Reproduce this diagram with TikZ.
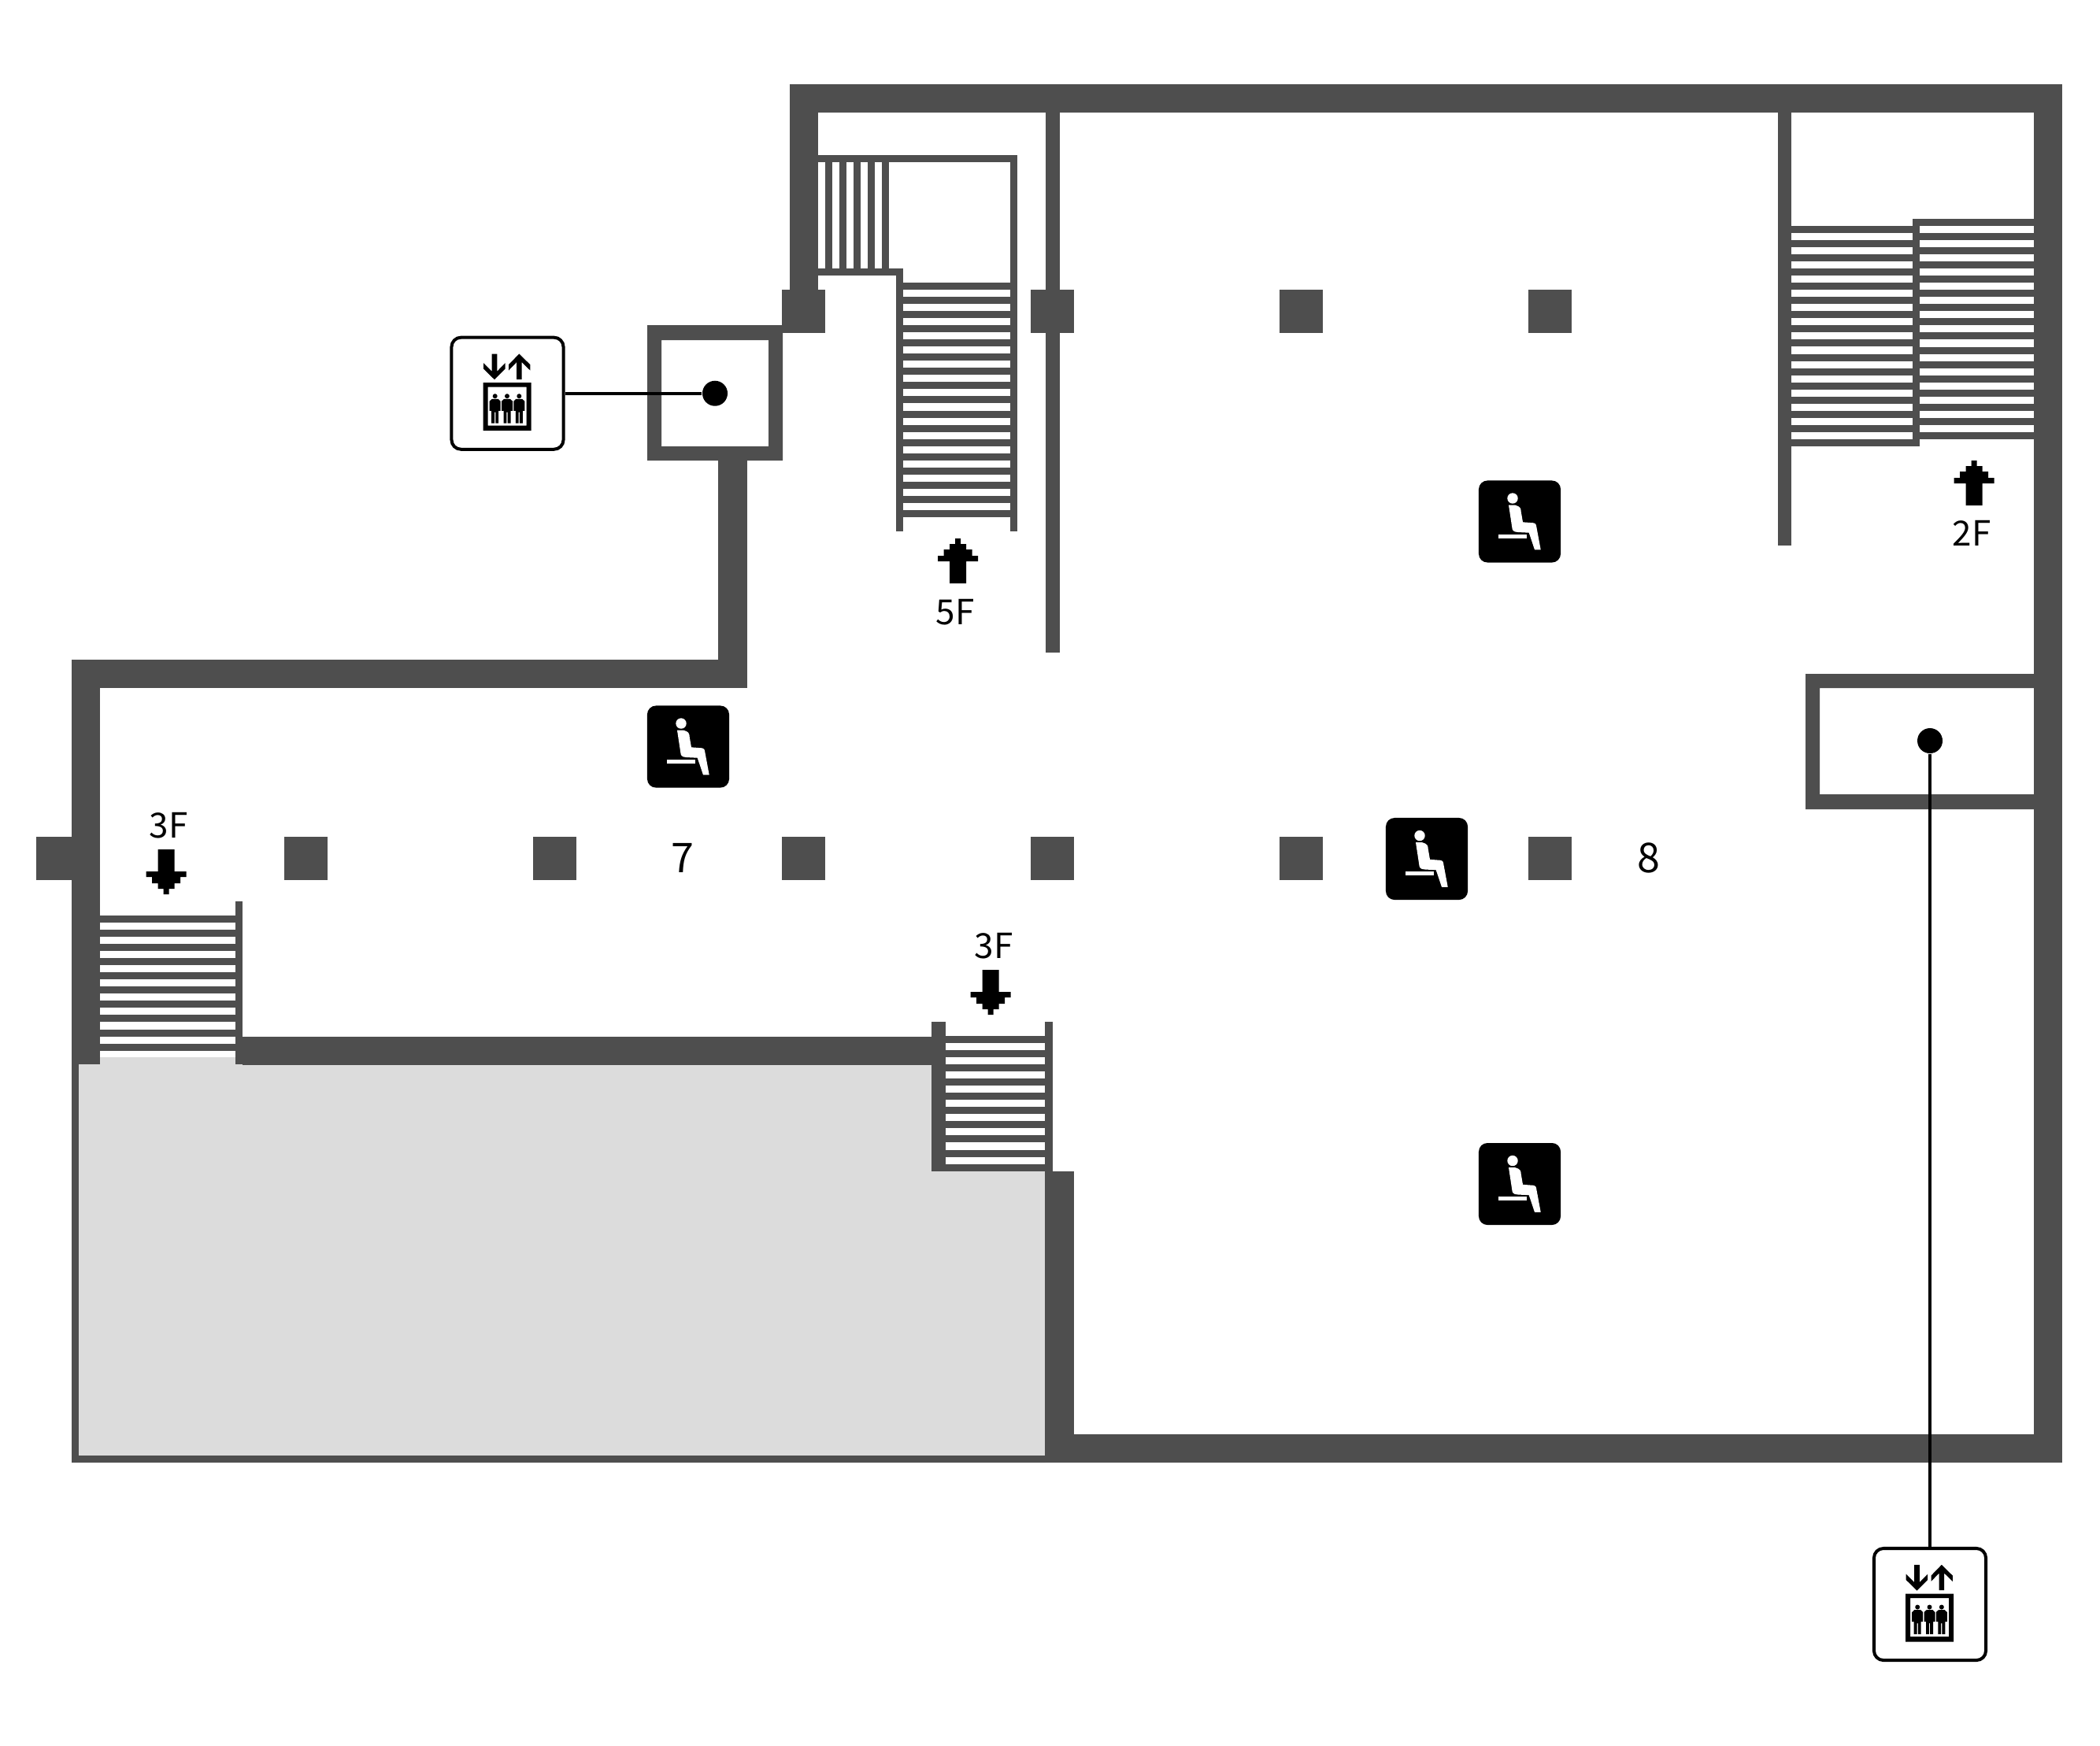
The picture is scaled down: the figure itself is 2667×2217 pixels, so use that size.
\documentclass[tikz,border=0pt]{standalone}
\usepackage{fontspec}
\newfontfamily\labelfont{Noto Sans CJK JP}
\definecolor{wallcol}{HTML}{4E4E4E}
\definecolor{voidcol}{HTML}{DCDCDC}
\tikzset{
  x=0.01cm,y=-0.01cm,
  wall/.style={fill=wallcol},
  floorlabel/.style={font=\labelfont\fontsize{12.5}{12.5}\selectfont,anchor=base,inner sep=0pt},
  roomlabel/.style={font=\labelfont\fontsize{14.8}{14.8}\selectfont,anchor=base,inner sep=0pt},
  lifticon/.style={draw=black,fill=white,line width=1.14pt,rounded corners=0.12cm,minimum size=1.42cm,inner sep=0pt,shape=rectangle},
  liftdot/.style={circle,fill=black,minimum size=0.32cm,inner sep=0pt},
  leader/.style={draw=black,line width=1.14pt},
  seaticon/.style={fill=black,rounded corners=0.11cm,minimum size=1.04cm,inner sep=0pt,shape=rectangle},
  seatfig/.pic={
    \fill[white] (-9,-29.5) circle (6.7);
    \fill[white] (-14,-20.8) -- (-5.7,-20.8) .. controls (0.3,-19.2) and (1.7,-17) .. (1.7,-12.5)
      -- (4,0.8) -- (17.7,1.8) .. controls (20.3,2.5) and (20.8,3.5) .. (21,5.2)
      -- (26.7,35.8) -- (19,35.8) -- (11.7,14.2) -- (-2.3,13.5)
      .. controls (-8.3,13.2) and (-9.5,11) .. (-9.7,7.5) -- cycle;
    \fill[white] (-27,16.2) rectangle (9,21.2);
  },
  person/.pic={
    \fill (0,3.5) circle (3);
    \fill (-4,7.2) -- (4,7.2) -- (7,10) -- (7,22.2) -- (4.5,22.2) -- (4.5,37.8) -- (0.6,37.8) -- (0.6,24)
      -- (-0.6,24) -- (-0.6,37.8) -- (-4.5,37.8) -- (-4.5,22.2) -- (-7,22.2) -- (-7,10) -- cycle;
  },
  liftfig/.pic={
    \fill[even odd rule] (-31,-13.5) rectangle (30,47.5) (-25,-8) rectangle (24,41);
    \fill (-19.8,-50.2) -- (-13.2,-50.2) -- (-13.2,-28) -- (-2.8,-38.5) -- (-2.8,-31.2) -- (-16.5,-17.5)
      -- (-30.5,-31.2) -- (-30.5,-38.5) -- (-19.8,-28) -- cycle;
    \fill (14.8,-50.2) -- (28.8,-36.5) -- (28.8,-29.2) -- (18.2,-39.5) -- (18.2,-17.8) -- (11.5,-17.8)
      -- (11.5,-39.5) -- (1.5,-29.2) -- (1.5,-36.5) -- cycle;
    \pic at (-15.8,0) {person};
    \pic at (-0.5,0) {person};
    \pic at (14.8,0) {person};
  },
  steparrow/.pic={
    \fill (-3.5,0) -- (3.5,0) -- (3.5,7) -- (10.5,7) -- (10.5,14) -- (18,14) -- (18,22) -- (25.5,22) -- (25.5,29)
      -- (10.5,29) -- (10.5,57) -- (-10.5,57) -- (-10.5,29) -- (-25.5,29) -- (-25.5,22) -- (-18,22) -- (-18,14)
      -- (-10.5,14) -- (-10.5,7) -- (-3.5,7) -- cycle;
  }
}
\begin{document}
\begin{tikzpicture}
\useasboundingbox (0,0) rectangle (2667,2217);
\fill[white] (0,0) rectangle (2667,2217);
% void area
\fill[voidcol] (91,1343) -- (1183,1343) -- (1183,1488) -- (1328,1488) -- (1328,1858) -- (91,1858) -- cycle;
% outer walls
\fill[wall] (1003,107) rectangle (2619,143);
\fill[wall] (2583,107) rectangle (2619,1858);
\fill[wall] (1328,1822) rectangle (2619,1858);
\fill[wall] (1327,1488) rectangle (1364,1858);
\fill[wall] (91,1849) rectangle (1328,1858);
\fill[wall] (91,1343) rectangle (100,1858);
\fill[wall] (91,838) rectangle (127,1352);
\fill[wall] (91,838) rectangle (949,874);
\fill[wall] (912,585) rectangle (949,874);
\fill[wall] (1003,107) rectangle (1039,368);
\fill[wall] (308,1317) rectangle (1183,1353);
% partitions
\fill[wall] (1328,143) rectangle (1346,829);
\fill[wall] (2258,143) rectangle (2275,693);
% lift shafts
\fill[wall,even odd rule] (822,413) rectangle (994,585) (840,432) rectangle (976,567);
\fill[wall,even odd rule] (2293,856) rectangle (2583,1028) (2311,874) rectangle (2583,1009);
% posts
\foreach \cx in {1020.5,1336.5,1652.5,1968.5} \fill[wall] (\cx-27.5,368) rectangle (\cx+27.5,423);
\foreach \cx in {388.5,704.5,1020.5,1336.5,1652.5,1968.5} \fill[wall] (\cx-27.5,1063) rectangle (\cx+27.5,1118);
\fill[wall] (46,1063) rectangle (91,1118);
% stair top-left
\fill[wall] (1039,197) rectangle (1292,206);
\fill[wall] (1283,197) rectangle (1292,675);
\fill[wall] (1039,341) rectangle (1147,350);
\fill[wall] (1138,341) rectangle (1147,675);
\foreach \k in {0,...,4} \fill[wall] (1048+18*\k,206) rectangle (1057+18*\k,341);
\foreach \k in {0,...,16} \fill[wall] (1147,359+18.06*\k) rectangle (1283,368+18.06*\k);
% stair top-right
\fill[wall] (2429,278) rectangle (2438,567);
\fill[wall] (2429,278) rectangle (2583,287);
\foreach \k in {0,...,15} \fill[wall] (2275,287+18.06*\k) rectangle (2429,296+18.06*\k);
\fill[wall] (2429,558) rectangle (2438,567);
\foreach \k in {0,...,15} \fill[wall] (2438,278+18.06*\k) rectangle (2583,287+18.06*\k);
% stair left
\fill[wall] (299,1145) rectangle (308,1352);
\foreach \k in {0,...,9} \fill[wall] (127,1163+18.06*\k) rectangle (299,1172+18.06*\k);
% stair middle
\fill[wall] (1183,1298) rectangle (1201,1488);
\fill[wall] (1327,1298) rectangle (1337,1488);
\foreach \k in {0,...,9} \fill[wall] (1201,1316+18.06*\k) rectangle (1327,1325+18.06*\k);
% arrows
\pic at (1216.5,684) {steparrow};
\pic at (2507,585) {steparrow};
\pic[yscale=-1] at (211,1136) {steparrow};
\pic[yscale=-1] at (1258,1289) {steparrow};
% labels
\node[floorlabel] (lab5f) at (1213,793) {5F};
\node[floorlabel] (lab2f) at (2504,693) {2F};
\node[floorlabel] (lab3fa) at (214,1064) {3F};
\node[floorlabel] (lab3fb) at (1262,1217) {3F};
\node[roomlabel] (lab7) at (867,1108) {7};
\node[roomlabel] (lab8) at (2094,1108) {8};
% seats
\node[seaticon] (seata) at (1930,662.5) {};
\node[seaticon] (seatb) at (874,948.5) {};
\node[seaticon] (seatc) at (1812,1091) {};
\node[seaticon] (seatd) at (1930,1504) {};
\pic at (seata) {seatfig};
\pic at (seatb) {seatfig};
\pic at (seatc) {seatfig};
\pic at (seatd) {seatfig};
% lifts
\node[liftdot] (dota) at (908,499.7) {};
\node[liftdot] (dotb) at (2451,941) {};
\node[lifticon] (lifta) at (644.5,499.7) {};
\node[lifticon] (liftb) at (2451,2038) {};
\draw[leader] (lifta) -- (dota);
\draw[leader] (liftb) -- (dotb);
\pic at (lifta) {liftfig};
\pic at (liftb) {liftfig};
\end{tikzpicture}
\end{document}
